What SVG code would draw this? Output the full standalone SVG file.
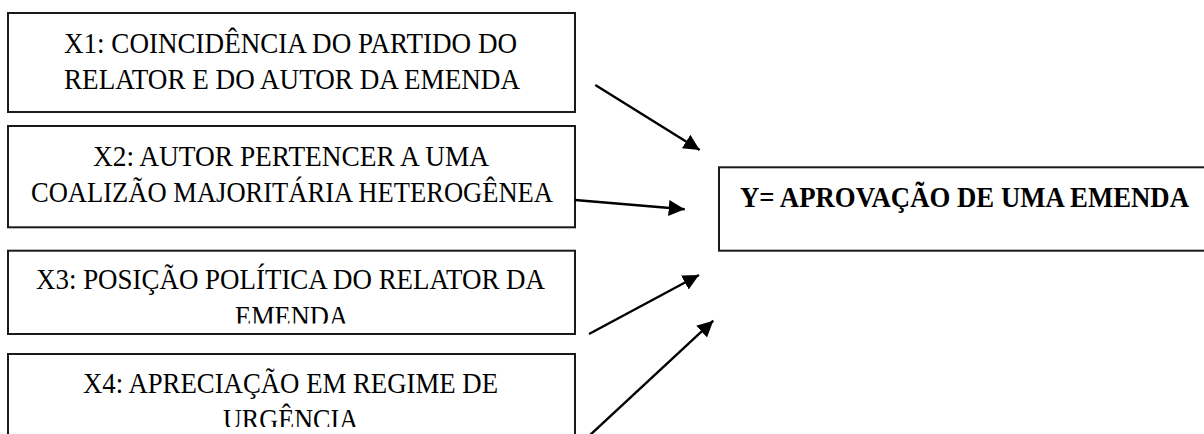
<svg xmlns="http://www.w3.org/2000/svg" width="1204" height="434" viewBox="0 0 1204 434">
<style>
.box{fill:#fff;stroke:#1a1a1a;stroke-width:2}
.t{font-family:"Liberation Serif",serif;font-size:30px;fill:#000}
.yt{font-family:"Liberation Serif",serif;font-size:29px;font-weight:bold;fill:#000}
.conn{stroke:#000;stroke-width:2.4;fill:none}
</style>
<defs>
<marker id="ah" markerUnits="userSpaceOnUse" markerWidth="18" markerHeight="18" refX="16" refY="8" orient="auto">
<path d="M0,0 L16,8 L0,16 z" fill="#000"/>
</marker>
<clipPath id="c3"><rect x="8" y="251" width="567" height="72.5"/></clipPath>
<clipPath id="c4"><rect x="8" y="354" width="567" height="73"/></clipPath>
</defs>
<rect width="1204" height="434" fill="#fff"/>
<g id="x1">
<rect class="box" x="8" y="13" width="567" height="99"/>
<text class="t" x="64" y="52.7" textLength="453" lengthAdjust="spacingAndGlyphs">X1: COINCIDÊNCIA DO PARTIDO DO</text>
<text class="t" x="64" y="89.2" textLength="456" lengthAdjust="spacingAndGlyphs">RELATOR E DO AUTOR DA EMENDA</text>
</g>
<g id="x2">
<rect class="box" x="8" y="126" width="567" height="101.3"/>
<text class="t" x="93" y="165.7" textLength="396" lengthAdjust="spacingAndGlyphs">X2: AUTOR PERTENCER A UMA</text>
<text class="t" x="31" y="202" textLength="522" lengthAdjust="spacingAndGlyphs">COALIZÃO MAJORITÁRIA HETEROGÊNEA</text>
</g>
<g id="x3">
<rect class="box" x="8" y="250.7" width="567" height="83.3"/>
<g clip-path="url(#c3)">
<text class="t" x="36" y="289" textLength="509" lengthAdjust="spacingAndGlyphs">X3: POSIÇÃO POLÍTICA DO RELATOR DA</text>
<text class="t" x="235" y="325.7" textLength="113" lengthAdjust="spacingAndGlyphs">EMENDA</text>
</g>
</g>
<g id="x4">
<rect class="box" x="8" y="354" width="567" height="90"/>
<g clip-path="url(#c4)">
<text class="t" x="83" y="392.7" textLength="415" lengthAdjust="spacingAndGlyphs">X4: APRECIAÇÃO EM REGIME DE</text>
<text class="t" x="223" y="429.3" textLength="135" lengthAdjust="spacingAndGlyphs">URGÊNCIA</text>
</g>
</g>
<g id="y">
<rect class="box" x="719" y="167.3" width="500" height="83.4"/>
<text class="yt" x="740" y="206.7" textLength="449" lengthAdjust="spacingAndGlyphs">Y= APROVAÇÃO DE UMA EMENDA</text>
</g>
<g id="connectors">
<line class="conn" x1="595.3" y1="85" x2="699.7" y2="150" marker-end="url(#ah)"/>
<line class="conn" x1="575" y1="200" x2="684.7" y2="209.3" marker-end="url(#ah)"/>
<line class="conn" x1="589" y1="334" x2="699" y2="275" marker-end="url(#ah)"/>
<line class="conn" x1="589" y1="436" x2="713.3" y2="320.7" marker-end="url(#ah)"/>
</g>
</svg>
